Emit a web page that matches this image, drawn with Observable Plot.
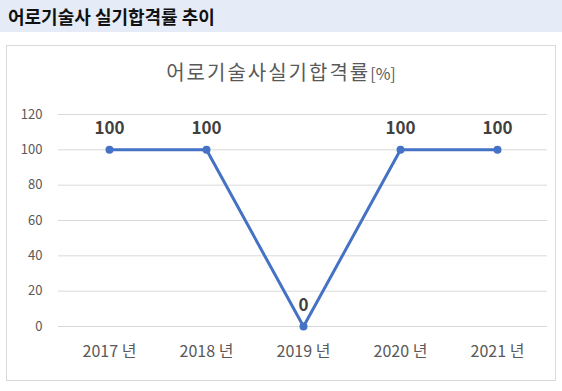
<!DOCTYPE html>
<html><head><meta charset="utf-8">
<script src="https://cdn.jsdelivr.net/npm/d3@7"></script>
<script src="https://cdn.jsdelivr.net/npm/@observablehq/plot@0.6"></script>
<style>
body{margin:0;width:562px;height:391px;background:#fff;position:relative;overflow:hidden;font-family:"Noto Sans CJK KR","Noto Sans",sans-serif;}
#hdr{position:absolute;left:0;top:0;width:562px;height:32px;background:#E6ECF7;}
#hdr span{position:absolute;left:8px;top:3px;font-size:18px;font-weight:700;color:#111;line-height:26px;}
#box{position:absolute;left:6px;top:45px;width:548px;height:334px;border:1px solid #d9d9d9;}
#title{position:absolute;left:0;top:58px;width:562px;text-align:center;font-size:20px;font-weight:400;color:#595959;line-height:28px;letter-spacing:2px;}
#title small{font-size:16px;letter-spacing:0;}
#chart{position:absolute;left:0;top:45px;}
</style></head>
<body>
<div id="hdr"><span>어로기술사 실기합격률 추이</span></div>
<div id="box"></div>
<div id="title">어로기술사실기합격률<small>[%]</small></div>
<div id="chart"></div>
<script>
const years = ["2017 년","2018 년","2019 년","2020 년","2021 년"];
const rates = [100,100,0,100,100];
const yTicks = [0,20,40,60,80,100,120];
const data = years.map((y,i)=>({year:y, rate:rates[i]}));
const plot = Plot.plot({
  width:562, height:346,
  marginLeft:58, marginRight:15, marginTop:69, marginBottom:65,
  style:{background:"transparent", fontFamily:"'Noto Sans CJK KR','Noto Sans',sans-serif"},
  x:{type:"point", domain:years, padding:0.5, label:null},
  y:{domain:[0,120], label:null},
  marks:[
    Plot.ruleY(yTicks,{stroke:"#d9d9d9", strokeWidth:1}),
    Plot.axisY({ticks:yTicks, tickSize:0, tickPadding:16, fontSize:13, fill:"#595959", label:null}),
    Plot.axisX({tickSize:0, tickPadding:19, fontSize:16, fill:"#595959", label:null}),
    Plot.line(data,{x:"year", y:"rate", stroke:"#4472C4", strokeWidth:3}),
    Plot.dot(data,{x:"year", y:"rate", r:4, fill:"#4472C4", stroke:"none"}),
    Plot.text(data,{x:"year", y:"rate", text:d=>String(d.rate), dy:-21, fontSize:17, fontWeight:700, fill:"#404040"})
  ]
});
document.getElementById("chart").appendChild(plot);
</script>
</body></html>
